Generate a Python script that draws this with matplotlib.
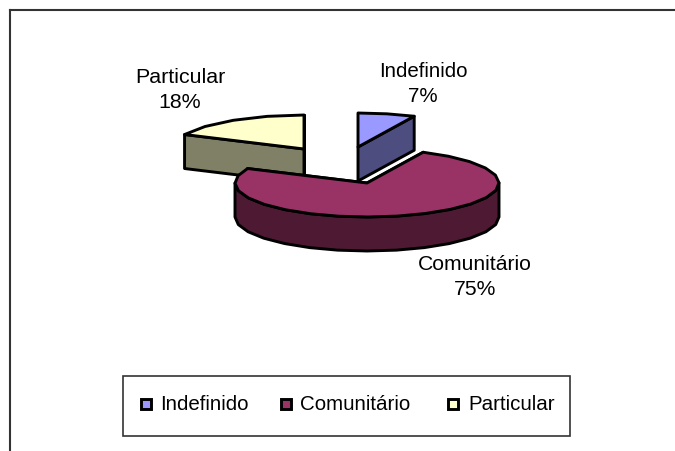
import numpy as np
from matplotlib import pyplot as plt
from matplotlib.patches import Polygon, Rectangle

# data
labels = ["Indefinido", "Comunitário", "Particular"]
shares = [7, 75, 18]
pct_labels = ["7%", "75%", "18%"]
top_colors = ["#9999FF", "#993366", "#FFFFCC"]
side_colors = ["#4D4D80", "#4D1933", "#808066"]

# layout, pixels
centers = [(358, 147), (367, 183), (304, 149)]
rx, ry, depth = 132, 34, 34
label_pos = [(423, 84), (475, 277), (180, 90)]
label_sizes = [14.8, 15.2, 15.4]
legend_marker_x = [146, 286, 453]
legend_text_x = [160, 300, 468]
legend_y = 404

plt.rcParams['font.family'] = ['Liberation Sans', 'DejaVu Sans']

fig = plt.figure(figsize=(6.75, 4.51), dpi=100)
ax = fig.add_axes([0, 0, 1, 1])
ax.set_xlim(0, 675)
ax.set_ylim(451, 0)
ax.axis('off')

ax.plot([10, 10], [451, 9.5], color="#333333", lw=1.5)
ax.plot([10, 675], [9.5, 9.5], color="#333333", lw=1.5)


def rim(c, a0, a1, n=14):
    a = np.radians(np.linspace(a0, a1, n))
    return np.column_stack([c[0] + rx*np.cos(a), c[1] - ry*np.sin(a)])


def draw_slice(i, a0, a1):
    c = centers[i]
    edge = dict(edgecolor="black", linewidth=2.1, joinstyle="round")
    seg = max(3, int(abs(a1 - a0)/12))
    top = rim(c, a0, a1, seg)
    down = np.array([0, depth])
    # radial faces first, then the front of the rim, then the top
    for a in (a0, a1):
        p = rim(c, a, a, 1)[0]
        ax.add_patch(Polygon([c, p, p + down, np.add(c, down)], facecolor=side_colors[i], **edge))
    # front half of the rim is where sin(angle) < 0
    lo, hi = min(a0, a1), max(a0, a1)
    for k in (-1, 0):
        s, e = max(lo, 180 + 360*k), min(hi, 360 + 360*k)
        if e > s:
            r = rim(c, s, e, max(3, int((e - s)/12)))
            ax.add_patch(Polygon(np.vstack([r, (r + down)[::-1]]), facecolor=side_colors[i], **edge))
    ax.add_patch(Polygon(np.vstack([c, top]), facecolor=top_colors[i], **edge))


# slices run clockwise from 12 o'clock
starts = 90 - 3.6*np.cumsum([0] + shares[:-1])
ends = starts - 3.6*np.array(shares)
for i in (2, 0, 1):
    draw_slice(i, starts[i], ends[i])

for i in range(3):
    ax.text(label_pos[i][0], label_pos[i][1], labels[i] + "\n" + pct_labels[i], ha="center", va="center",
            fontsize=label_sizes[i], linespacing=1.42, color="black")

ax.add_patch(Rectangle((123, 376), 447, 60, facecolor="white", edgecolor="#333333", lw=1.2))
for i in range(3):
    ax.add_patch(Rectangle((legend_marker_x[i] - 5, legend_y - 5), 10, 10, facecolor=top_colors[i],
                           edgecolor="black", lw=2.1))
    ax.text(legend_text_x[i], legend_y, labels[i], ha="left", va="center", fontsize=14.8, color="black")

fig.savefig("out.png", dpi=100)
